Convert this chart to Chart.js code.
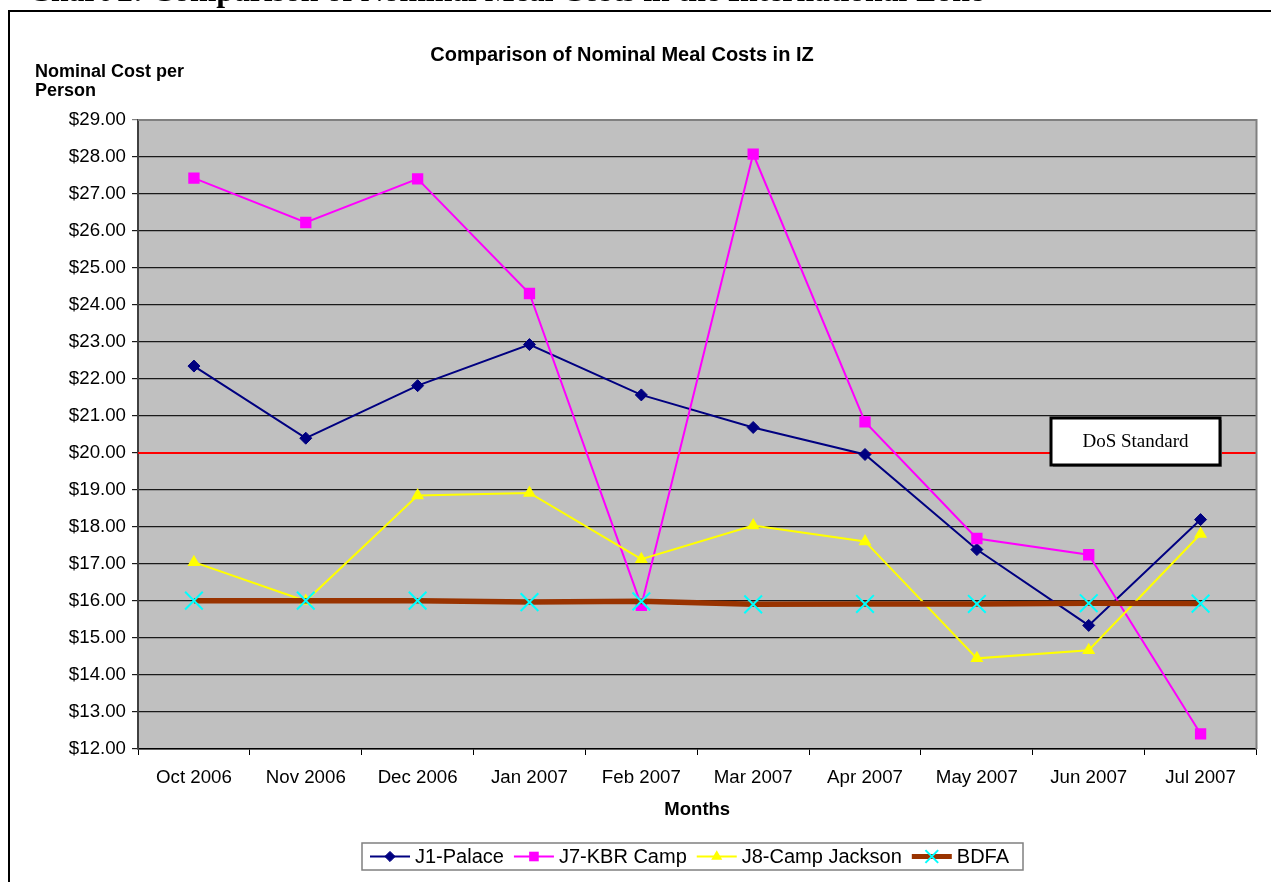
<!DOCTYPE html>
<html>
<head>
<meta charset="utf-8">
<script src="https://cdn.jsdelivr.net/npm/chart.js@4.4.1/dist/chart.umd.min.js"></script>
<style>
  html, body { margin: 0; padding: 0; background: #fff; }
  #wrap { position: relative; width: 1271px; height: 882px; }
</style>
</head>
<body>
<div id="wrap"><canvas id="mealChart" width="1271" height="882"></canvas></div>
<script>
// months on the x axis
const months = ['Oct 2006', 'Nov 2006', 'Dec 2006', 'Jan 2007', 'Feb 2007',
                'Mar 2007', 'Apr 2007', 'May 2007', 'Jun 2007', 'Jul 2007'];

// nominal cost per person, $
const j1Palace      = [22.35, 20.40, 21.82, 22.93, 21.57, 20.69, 19.96, 17.39, 15.34, 18.20];
const j7KbrCamp     = [27.43, 26.23, 27.41, 24.31, 15.88, 28.08, 20.84, 17.69, 17.25, 12.41];
const j8CampJackson = [17.05, 16.00, 18.85, 18.92, 17.13, 18.04, 17.61, 14.45, 14.67, 17.81];
const bdfa          = [16.01, 16.01, 16.01, 15.97, 15.99, 15.91, 15.92, 15.92, 15.94, 15.93];

const dosStandard = 20.00;
const yMin = 12, yMax = 29;

const FONT = 'Arial, "Liberation Sans", sans-serif';
const SERIF = '"Liberation Serif", "Times New Roman", serif';

let data = {
    labels: months,
    datasets: [{
            label: 'J1-Palace',
            data: j1Palace,
            borderColor: '#000080',
            backgroundColor: '#000080',
            borderWidth: 2,
            pointStyle: 'rectRot',
            pointRadius: 6,
            pointBorderWidth: 1,
            order: 4
        },
        {
            label: 'J7-KBR Camp',
            data: j7KbrCamp,
            borderColor: '#FF00FF',
            backgroundColor: '#FF00FF',
            borderWidth: 2,
            pointStyle: 'rect',
            pointRadius: 8,
            pointBorderWidth: 0,
            order: 3
        },
        {
            label: 'J8-Camp Jackson',
            data: j8CampJackson,
            borderColor: '#FFFF00',
            backgroundColor: '#FFFF00',
            borderWidth: 2,
            pointStyle: 'triangle',
            pointRadius: 7.5,
            pointBorderWidth: 0,
            order: 2
        },
        {
            label: 'BDFA',
            data: bdfa,
            borderColor: '#993300',
            backgroundColor: '#993300',
            borderWidth: 5.5,
            pointStyle: 'crossRot',
            pointRadius: 12.5,
            pointBorderColor: '#00FFFF',
            pointBorderWidth: 2,
            order: 1
        }
    ]
};

// gray plot area, frame, DoS line, texts and legend
const decor = {
    id: 'decor',
    beforeDraw(chart) {
        const c = chart.ctx, a = chart.chartArea;
        c.save();
        c.fillStyle = '#C0C0C0';
        c.fillRect(a.left, a.top, a.right - a.left, a.bottom - a.top);
        c.restore();
    },
    beforeDatasetsDraw(chart) {
        const c = chart.ctx, a = chart.chartArea;
        const y = chart.scales.y.getPixelForValue(dosStandard);
        c.save();
        c.strokeStyle = '#FF0000';
        c.lineWidth = 2;
        c.beginPath();
        c.moveTo(a.left, y);
        c.lineTo(a.right, y);
        c.stroke();
        // top and right edge of the plot
        c.strokeStyle = '#808080';
        c.lineWidth = 2;
        c.beginPath();
        c.moveTo(a.left, a.top);
        c.lineTo(a.right, a.top);
        c.lineTo(a.right, a.bottom);
        c.stroke();
        c.restore();
    },
    afterDraw(chart) {
        const c = chart.ctx, a = chart.chartArea;
        c.save();

        // outer frame
        c.strokeStyle = '#000';
        c.lineWidth = 2;
        c.beginPath();
        c.moveTo(9, 882);
        c.lineTo(9, 11);
        c.lineTo(1271, 11);
        c.stroke();

        // page heading, cut by the top of the window
        const head = 'Chart 2: Comparison of Nominal Meal Costs in the International Zone';
        c.fillStyle = '#000';
        c.font = 'bold 26px ' + SERIF;
        let w = c.measureText(head).width;
        let fs = 26 * 957 / w;
        c.font = 'bold ' + fs.toFixed(1) + 'px ' + SERIF;
        c.textAlign = 'left';
        c.textBaseline = 'alphabetic';
        c.fillText(head, 28, 1);

        // chart title
        c.font = 'bold 20px ' + FONT;
        c.textAlign = 'center';
        c.textBaseline = 'middle';
        c.fillText('Comparison of Nominal Meal Costs in IZ', 622, 55);

        // y axis title
        c.font = 'bold 18px ' + FONT;
        c.textAlign = 'left';
        c.fillText('Nominal Cost per', 35, 72);
        c.fillText('Person', 35, 91);

        // x axis title
        c.font = 'bold 18.5px ' + FONT;
        c.textAlign = 'center';
        c.fillText('Months', (a.left + a.right) / 2, 810);

        // DoS Standard box
        const bx = 1051, by = 418, bw = 169, bh = 47;
        c.fillStyle = '#808080';
        c.fillRect(bx + 2, by + 2, bw, bh);
        c.fillStyle = '#fff';
        c.fillRect(bx, by, bw, bh);
        c.strokeStyle = '#000';
        c.lineWidth = 3;
        c.strokeRect(bx, by, bw, bh);
        c.fillStyle = '#000';
        c.font = '19px ' + SERIF;
        c.fillText('DoS Standard', bx + bw / 2, by + bh / 2 + 1);

        // legend
        c.font = '20px ' + FONT;
        const sample = 40, gap = 5, itemGap = 10;
        const lx = 362, lw = 661, ly = 843, lh = 27;
        c.fillStyle = '#fff';
        c.fillRect(lx, ly, lw, lh);
        c.strokeStyle = '#808080';
        c.lineWidth = 1.5;
        c.strokeRect(lx, ly, lw, lh);
        let x = lx + 8;
        const cy = ly + lh / 2;
        chart.data.datasets.forEach(ds => {
            c.strokeStyle = ds.borderColor;
            c.lineWidth = Math.min(ds.borderWidth, 5);
            c.beginPath();
            c.moveTo(x, cy);
            c.lineTo(x + sample, cy);
            c.stroke();
            c.fillStyle = ds.backgroundColor;
            c.strokeStyle = ds.pointBorderColor || ds.borderColor;
            c.lineWidth = ds.pointBorderWidth;
            Chart.helpers.drawPoint(c, {
                pointStyle: ds.pointStyle,
                radius: ds.pointStyle === 'crossRot' ? 9 : ds.pointRadius * 0.85,
                rotation: 0,
                borderWidth: ds.pointBorderWidth
            }, x + sample / 2, cy);
            c.fillStyle = '#000';
            c.textAlign = 'left';
            c.textBaseline = 'middle';
            c.fillText(ds.label, x + sample + gap, cy + 1);
            x += sample + gap + c.measureText(ds.label).width + itemGap;
        });
        c.restore();
    }
};

let options = {
    responsive: false,
    animation: false,
    layout: {
        padding: { left: 0, right: 11, top: 120, bottom: 73 }
    },
    scales: {
        x: {
            offset: true,
            grid: {
                offset: true,
                drawOnChartArea: false,
                color: '#000',
                tickLength: 6
            },
            border: { color: '#000', width: 1.5 },
            ticks: {
                color: '#000',
                font: { family: FONT, size: 18.7 },
                padding: 12,
                maxRotation: 0,
                autoSkip: false
            },
            afterFit: function (scale) {
                scale.height = 60;
                scale.paddingLeft = 0;
                scale.paddingRight = 0;
            }
        },
        y: {
            min: yMin,
            max: yMax,
            grid: {
                color: ctx => ctx.tick && ctx.tick.value === yMax ? '#808080' : '#1a1a1a',
                lineWidth: 1.2,
                tickLength: 6
            },
            border: { color: '#404040', width: 2 },
            ticks: {
                stepSize: 1,
                color: '#000',
                padding: 6,
                font: { family: FONT, size: 18.7 },
                callback: function (v) { return '$' + Number(v).toFixed(2); }
            },
            afterFit: function (scale) { scale.width = 138; }
        }
    },
    plugins: {
        legend: { display: false },
        title: { display: false },
        tooltip: { enabled: false }
    }
};

const ctx = document.getElementById('mealChart').getContext('2d');
const myChart = new Chart(ctx, {
    type: 'line',
    data: data,
    options: options,
    plugins: [decor]
});
</script>
</body>
</html>
